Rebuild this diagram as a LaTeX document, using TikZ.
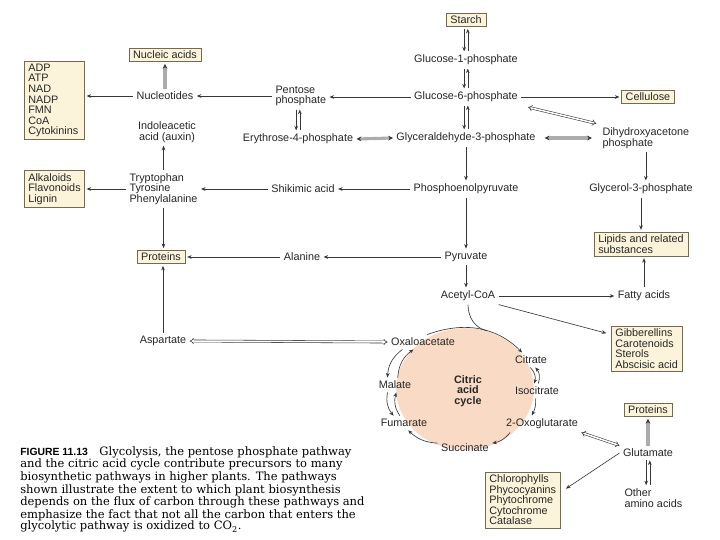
\documentclass[tikz,border=0pt]{standalone}
\usepackage{fontspec}
\setmainfont{Liberation Sans}
\newfontfamily\capfont{DejaVu Serif}
\usetikzlibrary{arrows.meta,calc,positioning}
\definecolor{boxfill}{RGB}{252,244,218}
\definecolor{boxline}{RGB}{115,105,85}
\definecolor{peach}{RGB}{249,219,197}
\definecolor{lineclr}{RGB}{55,55,55}
\definecolor{grayarr}{RGB}{172,172,172}

\begin{document}
\begin{tikzpicture}[x=0.25mm, y=0.25mm,
  font=\fontsize{7.7}{7.5}\selectfont,
  lbl/.style={inner sep=1pt, outer sep=1.5pt, text=black!85},
  box/.style={lbl, draw=boxline, fill=boxfill, line width=0.5pt, inner xsep=3pt, inner ysep=2pt},
  arr/.style={draw=lineclr, line width=0.45pt, -{Stealth[length=3.2pt,width=2.6pt]}},
  ln/.style={draw=lineclr, line width=0.45pt},
  garr/.style={draw=grayarr, line width=2.2pt, -{Stealth[length=3.4pt,width=3.4pt,color=lineclr]}},
  gdbl/.style={garr, {Stealth[length=3.4pt,width=3.4pt,color=lineclr]}-{Stealth[length=3.4pt,width=3.4pt,color=lineclr]}},
  dblarr/.style={draw=lineclr, double=white, double distance=1.1pt, line width=0.4pt, {Implies}-{Implies}}]

\useasboundingbox[fill=white] (0,0) rectangle (720,-540);

% glycolysis trunk
\node[box] (starch) at (466,-20) {Starch};
\node[lbl] (g1p) at (466,-60) {Glucose-1-phosphate};
\node[lbl] (g6p) at (466,-97) {Glucose-6-phosphate};
\node[lbl] (gap) at (466,-138) {Glyceraldehyde-3-phosphate};
\node[box] (cell) at (648,-97) {Cellulose};
\node[lbl, align=left, anchor=west] (dhap) at (599,-138) {Dihydroxyacetone\\phosphate};
\node[lbl] (pep) at (466,-189) {Phosphoenolpyruvate};
\node[lbl] (g3p) at (641,-189) {Glycerol-3-phosphate};
\node[box, align=left] (lipid) at (641,-244) {Lipids and related\\substances};
\node[lbl] (pyr) at (466,-257) {Pyruvate};
\node[lbl] (acoa) at (468,-296) {Acetyl-CoA};
\node[lbl] (fatty) at (644,-296) {Fatty acids};
\node[box, align=left, anchor=north west] (gibb) at (609,-324) {Gibberellins\\Carotenoids\\Sterols\\Abscisic acid};

% pentose phosphate and shikimate side
\node[lbl, align=left, anchor=west] (pent) at (272,-96) {Pentose\\phosphate};
\node[lbl] (e4p) at (298,-139) {Erythrose-4-phosphate};
\node[lbl] (nucl) at (165,-96) {Nucleotides};
\node[box] (nucac) at (165,-55) {Nucleic acids};
\node[box, align=left, text width=13mm, anchor=north west] (cofac) at (22,-59) {ADP\\ATP\\NAD\\NADP\\FMN\\CoA\\Cytokinins};
\node[lbl, align=center] (iaa) at (167,-132) {Indoleacetic\\acid (auxin)};
\node[lbl, align=left, anchor=west] (arom) at (126,-189) {Tryptophan\\Tyrosine\\Phenylalanine};
\node[box, align=left, text width=13mm, anchor=west] (alka) at (22,-189) {Alkaloids\\Flavonoids\\Lignin};
\node[lbl] (shik) at (303,-189) {Shikimic acid};
\node[lbl] (ala) at (302,-257) {Alanine};
\node[box] (protl) at (161,-257) {Proteins};
\node[lbl] (asp) at (163,-341) {Aspartate};

% citric acid cycle
\coordinate (cyc) at (465,-389);
\fill[peach] (cyc) ellipse [x radius=17.2mm, y radius=15.2mm];
\node[lbl] (oaa) at (423,-342) {Oxaloacetate};
\node[lbl] (cit) at (531,-360) {Citrate};
\node[lbl] (icit) at (537,-391) {Isocitrate};
\node[lbl] (oxo) at (542,-424) {2-Oxoglutarate};
\node[lbl] (succ) at (465,-448) {Succinate};
\node[lbl] (fum) at (404,-423) {Fumarate};
\node[lbl] (mal) at (395,-385) {Malate};
\node[lbl, align=center, font=\fontsize{7.7}{7.5}\selectfont\bfseries] (tca) at (468,-391) {Citric\\acid\\cycle};

% glutamate family
\node[lbl] (glu) at (648,-453) {Glutamate};
\node[box] (protr) at (648,-410) {Proteins};
\node[lbl, align=left, anchor=west] (othaa) at (621,-498) {Other\\amino acids};
\node[box, align=left, anchor=north west] (chlor) at (483,-470) {Chlorophylls\\Phycocyanins\\Phytochrome\\Cytochrome\\Catalase};

% connectors, trunk
\draw[arr] ([xshift=-1.3pt]starch.south) -- ([xshift=-1.3pt]g1p.north);
\draw[arr] ([xshift=1.3pt]g1p.north) -- ([xshift=1.3pt]starch.south);
\draw[arr] ([xshift=-1.3pt]g1p.south) -- ([xshift=-1.3pt]g6p.north);
\draw[arr] ([xshift=1.3pt]g6p.north) -- ([xshift=1.3pt]g1p.south);
\draw[arr] ([xshift=-1.3pt]g6p.south) -- ([xshift=-1.3pt]gap.north);
\draw[arr] ([xshift=1.3pt]gap.north) -- ([xshift=1.3pt]g6p.south);
\draw[arr] (g6p.east) -- (cell.west);
\draw[dblarr, shorten <=5pt, shorten >=2pt] (g6p.south east) -- (dhap.north west);
\draw[gdbl, shorten <=4pt, shorten >=5pt] (gap.east) -- (gap.east -| dhap.west);
\draw[arr] (gap.south) -- (pep.north);
\draw[arr] (dhap.south) -- (dhap.south |- g3p.north);
\draw[arr] (g3p.south) -- (g3p.south |- lipid.north);
\draw[arr] (pep.south) -- (pyr.north);
\draw[arr] (pyr.south) -- (pyr.south |- acoa.north);
\draw[arr] (acoa.east) -- (fatty.west);
\draw[arr] (fatty.north) -- (fatty.north |- lipid.south);
\draw[arr, shorten >=2pt] (acoa.south east) -- ($(gibb.north west)!0.2!(gibb.south west)$);

% connectors, left side
\draw[gdbl] (gap.west) -- (e4p.east);
\draw[arr] (g6p.west) -- (g6p.west -| pent.east);
\draw[arr] ([xshift=-1.3pt]e4p.north |- pent.south) -- ([xshift=-1.3pt]e4p.north);
\draw[arr] ([xshift=1.3pt]e4p.north) -- ([xshift=1.3pt]e4p.north |- pent.south);
\draw[arr] (pent.west) -- (pent.west -| nucl.east);
\draw[garr] (nucl.north) -- (nucac.south);
\draw[arr] (nucl.west) -- (nucl.west -| cofac.east);
\draw[arr] (arom.north) -- (arom.north |- iaa.south);
\draw[arr] (shik.west) -- (shik.west -| arom.east);
\draw[arr] (arom.west) -- (arom.west -| alka.east);
\draw[arr] (arom.south) -- (arom.south |- protl.north);
\draw[arr] (pep.west) -- (shik.east);
\draw[arr] (pyr.west) -- (ala.east);
\draw[arr] (ala.west) -- (protl.east);
\draw[arr] (asp.north) -- (asp.north |- protl.south);
\draw[dblarr] (asp.east) -- (oaa.west);

% connectors, cycle
\draw[arr] (oaa.60) to[out=20, in=135] coordinate[pos=0.6] (join) (cit.140);
\draw[ln] (acoa.south) to[out=-90, in=168] (join);
\draw[arr] (cit.-95) to[bend left=30] (icit.110);
\draw[arr] (icit.80) to[bend right=30] (cit.-60);
\draw[arr] (icit.-100) to[bend left=15] (oxo.140);
\draw[arr] (oxo.-165) to[bend left=20] (succ.10);
\draw[arr] (succ.170) to[bend left=20] (fum.-60);
\draw[arr] (fum.120) to[bend left=25] (mal.280);
\draw[arr] (mal.225) to[bend right=25] (fum.145);
\draw[arr] (mal.70) to[bend left=25] (oaa.218);
\draw[arr] (oaa.200) to[bend right=25] (mal.135);

% connectors, glutamate
\draw[dblarr] (oxo.south east) -- (glu.north west);
\draw[garr] (glu.north) -- (protr.south);
\draw[arr] ([xshift=-1.3pt]glu.south) -- ([xshift=-1.3pt]glu.south |- othaa.north);
\draw[arr] ([xshift=1.3pt]glu.south |- othaa.north) -- ([xshift=1.3pt]glu.south);
\draw[arr, shorten >=3pt] (glu.west) -- ($(chlor.north east)!0.35!(chlor.south east)$);

% caption
\node[anchor=north west, inner sep=0pt, align=left, font=\capfont\fontsize{8.2}{8.05}\selectfont] (caption) at (20,-446)
  {{\rmfamily\bfseries\fontsize{7.4}{8}\selectfont FIGURE 11.13}\quad Glycolysis, the pentose phosphate pathway\\
   and the citric acid cycle contribute precursors to many\\
   biosynthetic pathways in higher plants. The pathways\\
   shown illustrate the extent to which plant biosynthesis\\
   depends on the flux of carbon through these pathways and\\
   emphasize the fact that not all the carbon that enters the\\
   glycolytic pathway is oxidized to CO\textsubscript{2}.};
\end{tikzpicture}
\end{document}
